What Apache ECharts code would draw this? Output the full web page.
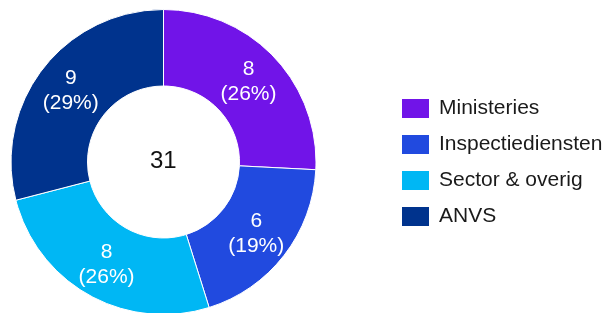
<!DOCTYPE html>
<html>
<head>
<meta charset="utf-8">
<script src="https://cdn.jsdelivr.net/npm/echarts@6/dist/echarts.min.js"></script>
<style>
  html, body { margin: 0; padding: 0; background: #fff; }
  #chart { width: 611px; height: 313px; }
</style>
</head>
<body>
<div id="chart"></div>
<script>
const categories = ['Ministeries', 'Inspectiediensten', 'Sector & overig', 'ANVS'];
const values = [8, 6, 8, 9];
const colors = ['#7114e8', '#214adf', '#00b7f4', '#00338d'];

const total = values.reduce((a, b) => a + b, 0);
const chart = echarts.init(document.getElementById('chart'));

chart.setOption({
  animation: false,
  color: colors,
  legend: {
    orient: 'vertical',
    left: 395,
    top: 92,
    itemWidth: 29,
    itemHeight: 21,
    itemGap: 13,
    icon: 'rect',
    textStyle: { fontFamily: 'Liberation Sans', fontSize: 21, lineHeight: 21, color: '#1a1a1a', padding: [0, 0, 0, 4] },
    data: categories
  },
  graphic: [{
    type: 'text',
    left: 163 - 13,
    top: 162 - 13,
    style: { text: String(total), font: '24px "Liberation Sans"', fill: '#111' }
  }],
  series: [{
    type: 'pie',
    center: [163.5, 162],
    radius: [76, 152.5],
    startAngle: 90,
    clockwise: true,
    itemStyle: { borderColor: '#fff', borderWidth: 1 },
    label: {
      position: 'inside',
      fontFamily: 'Liberation Sans',
      fontSize: 21,
      lineHeight: 25,
      color: '#fff',
      formatter: p => p.value + '\n(' + Math.round(p.value / total * 100) + '%)'
    },
    labelLine: { show: false },
    data: categories.map((c, i) => ({ name: c, value: values[i] }))
  }]
});
</script>
</body>
</html>
